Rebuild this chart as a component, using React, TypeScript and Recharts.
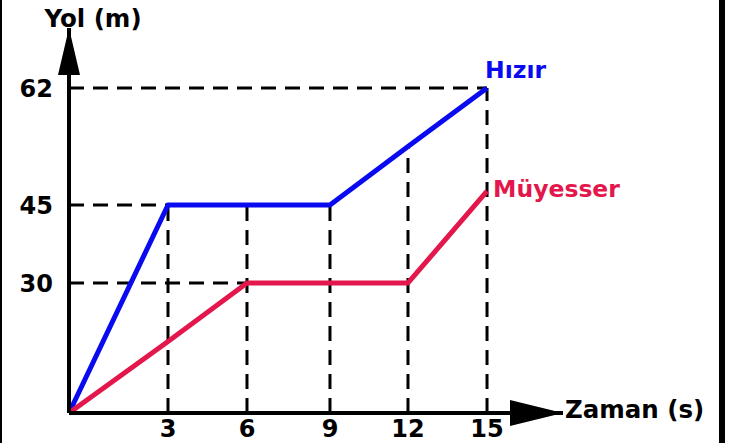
import React from 'react';
import { LineChart, Line, XAxis, YAxis, ReferenceLine, ReferenceDot, LabelList } from 'recharts';

// ---- data ----
const TIMES = [0, 3, 6, 9, 12, 15];
const HIZIR = [0, 45, 45, 45, 53.5, 62];
const MUYESSER = [0, 16.5, 30, 30, 30, 47];
const X_TICKS = [3, 6, 9, 12, 15];
const Y_TICKS = [30, 45, 62];
const SERIES_NAMES = ['Hızır', 'Müyesser'];
const X_TITLE = 'Zaman (s)';
const Y_TITLE = 'Yol (m)';

const data = TIMES.map((t, i) => ({ t, hizir: HIZIR[i], muyesser: MUYESSER[i] }));

// ---- hand-drawn (non-uniform) axis scales: knot value -> fraction of axis length ----
const X_MAX = 18;
const Y_MAX = 71;
const X_KNOT_VALUES = [0, 3, 6, 9, 12, 15, X_MAX];
const X_KNOT_FRACS = [0, 0.2004, 0.3603, 0.5283, 0.6862, 0.8462, 1];
const Y_KNOT_VALUES = [0, 30, 45, 62, Y_MAX];
const Y_KNOT_FRACS = [0, 0.3377, 0.5403, 0.8442, 1];

function knotScale(dk: number[], fk: number[]): any {
  let dom: number[] = [dk[0], dk[dk.length - 1]];
  let rng: number[] = [0, 1];
  const frac = (v: number) => {
    const n = dk.length;
    let i = 0;
    if (v <= dk[0]) i = 0;
    else if (v >= dk[n - 1]) i = n - 2;
    else {
      while (i < n - 2 && v > dk[i + 1]) i++;
    }
    const t = (v - dk[i]) / (dk[i + 1] - dk[i]);
    return fk[i] + t * (fk[i + 1] - fk[i]);
  };
  const unfrac = (f: number) => {
    const n = fk.length;
    let i = 0;
    while (i < n - 2 && f > fk[i + 1]) i++;
    const t = (f - fk[i]) / (fk[i + 1] - fk[i]);
    return dk[i] + t * (dk[i + 1] - dk[i]);
  };
  const s: any = (v: any) => rng[0] + frac(Number(v)) * (rng[1] - rng[0]);
  s.domain = (...a: any[]) => {
    if (a.length === 0) return dom.slice();
    dom = Array.from(a[0]).map(Number);
    return s;
  };
  s.range = (...a: any[]) => {
    if (a.length === 0) return rng.slice();
    rng = Array.from(a[0]).map(Number);
    return s;
  };
  s.invert = (px: number) => unfrac((px - rng[0]) / (rng[1] - rng[0]));
  s.ticks = () => dk.slice();
  s.tickFormat = () => (v: any) => String(v);
  s.nice = () => s;
  s.clamp = () => s;
  s.copy = () => {
    const c = knotScale(dk, fk);
    c.domain(dom);
    c.range(rng);
    return c;
  };
  return s;
}

const xScale = knotScale(X_KNOT_VALUES, X_KNOT_FRACS);
const yScale = knotScale(Y_KNOT_VALUES, Y_KNOT_FRACS);

const FONT = '"DejaVu Sans", Verdana, sans-serif';
const BLUE = '#0a0af0';
const RED = '#e3174c';
const DASH = { stroke: '#000', strokeWidth: 3, strokeDasharray: '15 9' };
const tickStyle = { fontSize: 24, fontWeight: 700, fill: '#000', fontFamily: FONT };

const last = TIMES.length - 1;

const makeEndLabel = (text: string, color: string, dx: number, dy: number) => (props: any) => {
  if (props.index !== last) return null;
  return (
    <text x={Number(props.x) + dx} y={Number(props.y) + dy} fill={color} fontSize={23.5} fontWeight={700} fontFamily={FONT} textAnchor="start">
      {text}
    </text>
  );
};

const XArrow = (props: any) => {
  const { cx, cy } = props;
  return (
    <g>
      <polygon points={`${cx},${cy} ${cx - 53},${cy - 13} ${cx - 53},${cy + 13}`} fill="#000" />
      <text x={cx + 2} y={cy + 5} fontSize={24.5} fontWeight={700} fontFamily={FONT} fill="#000">{X_TITLE}</text>
    </g>
  );
};

const YArrow = (props: any) => {
  const { cx, cy } = props;
  return (
    <g>
      <polygon points={`${cx},${cy} ${cx - 11},${cy + 47} ${cx + 11},${cy + 47}`} fill="#000" />
      <text x={cx + 24} y={cy - 1} fontSize={24.5} fontWeight={700} fontFamily={FONT} fill="#000" textAnchor="middle">{Y_TITLE}</text>
    </g>
  );
};

export default function App() {
  return (
    <div style={{ position: 'absolute', left: 0, top: 0, width: 732, height: 443, background: '#fff', overflow: 'hidden' }}>
      <LineChart width={732} height={443} data={data} margin={{ top: 28, right: 169, bottom: 0, left: 0 }}>
        <XAxis
          dataKey="t"
          type="number"
          domain={[0, X_MAX]}
          scale={xScale}
          ticks={X_TICKS}
          interval={0}
          tickLine={false}
          tickSize={0}
          tickMargin={7}
          height={30}
          axisLine={{ stroke: '#000', strokeWidth: 4 }}
          tick={tickStyle}
        />
        <YAxis
          type="number"
          domain={[0, Y_MAX]}
          scale={yScale}
          ticks={Y_TICKS}
          interval={0}
          tickLine={false}
          tickSize={0}
          tickMargin={16}
          width={69}
          axisLine={{ stroke: '#000', strokeWidth: 4 }}
          tick={tickStyle}
        />
        {/* horizontal guides */}
        <ReferenceLine ifOverflow="visible" segment={[{ x: 0, y: HIZIR[last] }, { x: TIMES[last], y: HIZIR[last] }]} {...DASH} />
        <ReferenceLine ifOverflow="visible" segment={[{ x: 0, y: HIZIR[1] }, { x: TIMES[1], y: HIZIR[1] }]} {...DASH} />
        <ReferenceLine ifOverflow="visible" segment={[{ x: 0, y: MUYESSER[2] }, { x: TIMES[2], y: MUYESSER[2] }]} {...DASH} />
        {/* vertical guides */}
        {TIMES.slice(1).map((t, k) => (
          <ReferenceLine key={t} ifOverflow="visible" segment={[{ x: t, y: 0 }, { x: t, y: HIZIR[k + 1] }]} {...DASH} />
        ))}
        <Line dataKey="hizir" stroke={BLUE} strokeWidth={5} dot={false} isAnimationActive={false} strokeLinejoin="round">
          <LabelList dataKey="hizir" content={makeEndLabel(SERIES_NAMES[0], BLUE, -2, -10)} />
        </Line>
        <Line dataKey="muyesser" stroke={RED} strokeWidth={5} dot={false} isAnimationActive={false} strokeLinejoin="round">
          <LabelList dataKey="muyesser" content={makeEndLabel(SERIES_NAMES[1], RED, 6, 6)} />
        </Line>
        <ReferenceDot ifOverflow="visible" x={X_MAX} y={0} r={0} shape={XArrow} />
        <ReferenceDot ifOverflow="visible" x={0} y={Y_MAX} r={0} shape={YArrow} />
      </LineChart>
      <div style={{ position: 'absolute', left: 0, top: 0, width: 2, height: 443, background: '#000' }} />
      <div style={{ position: 'absolute', left: 719, top: 0, width: 6, height: 443, background: '#000' }} />
    </div>
  );
}
